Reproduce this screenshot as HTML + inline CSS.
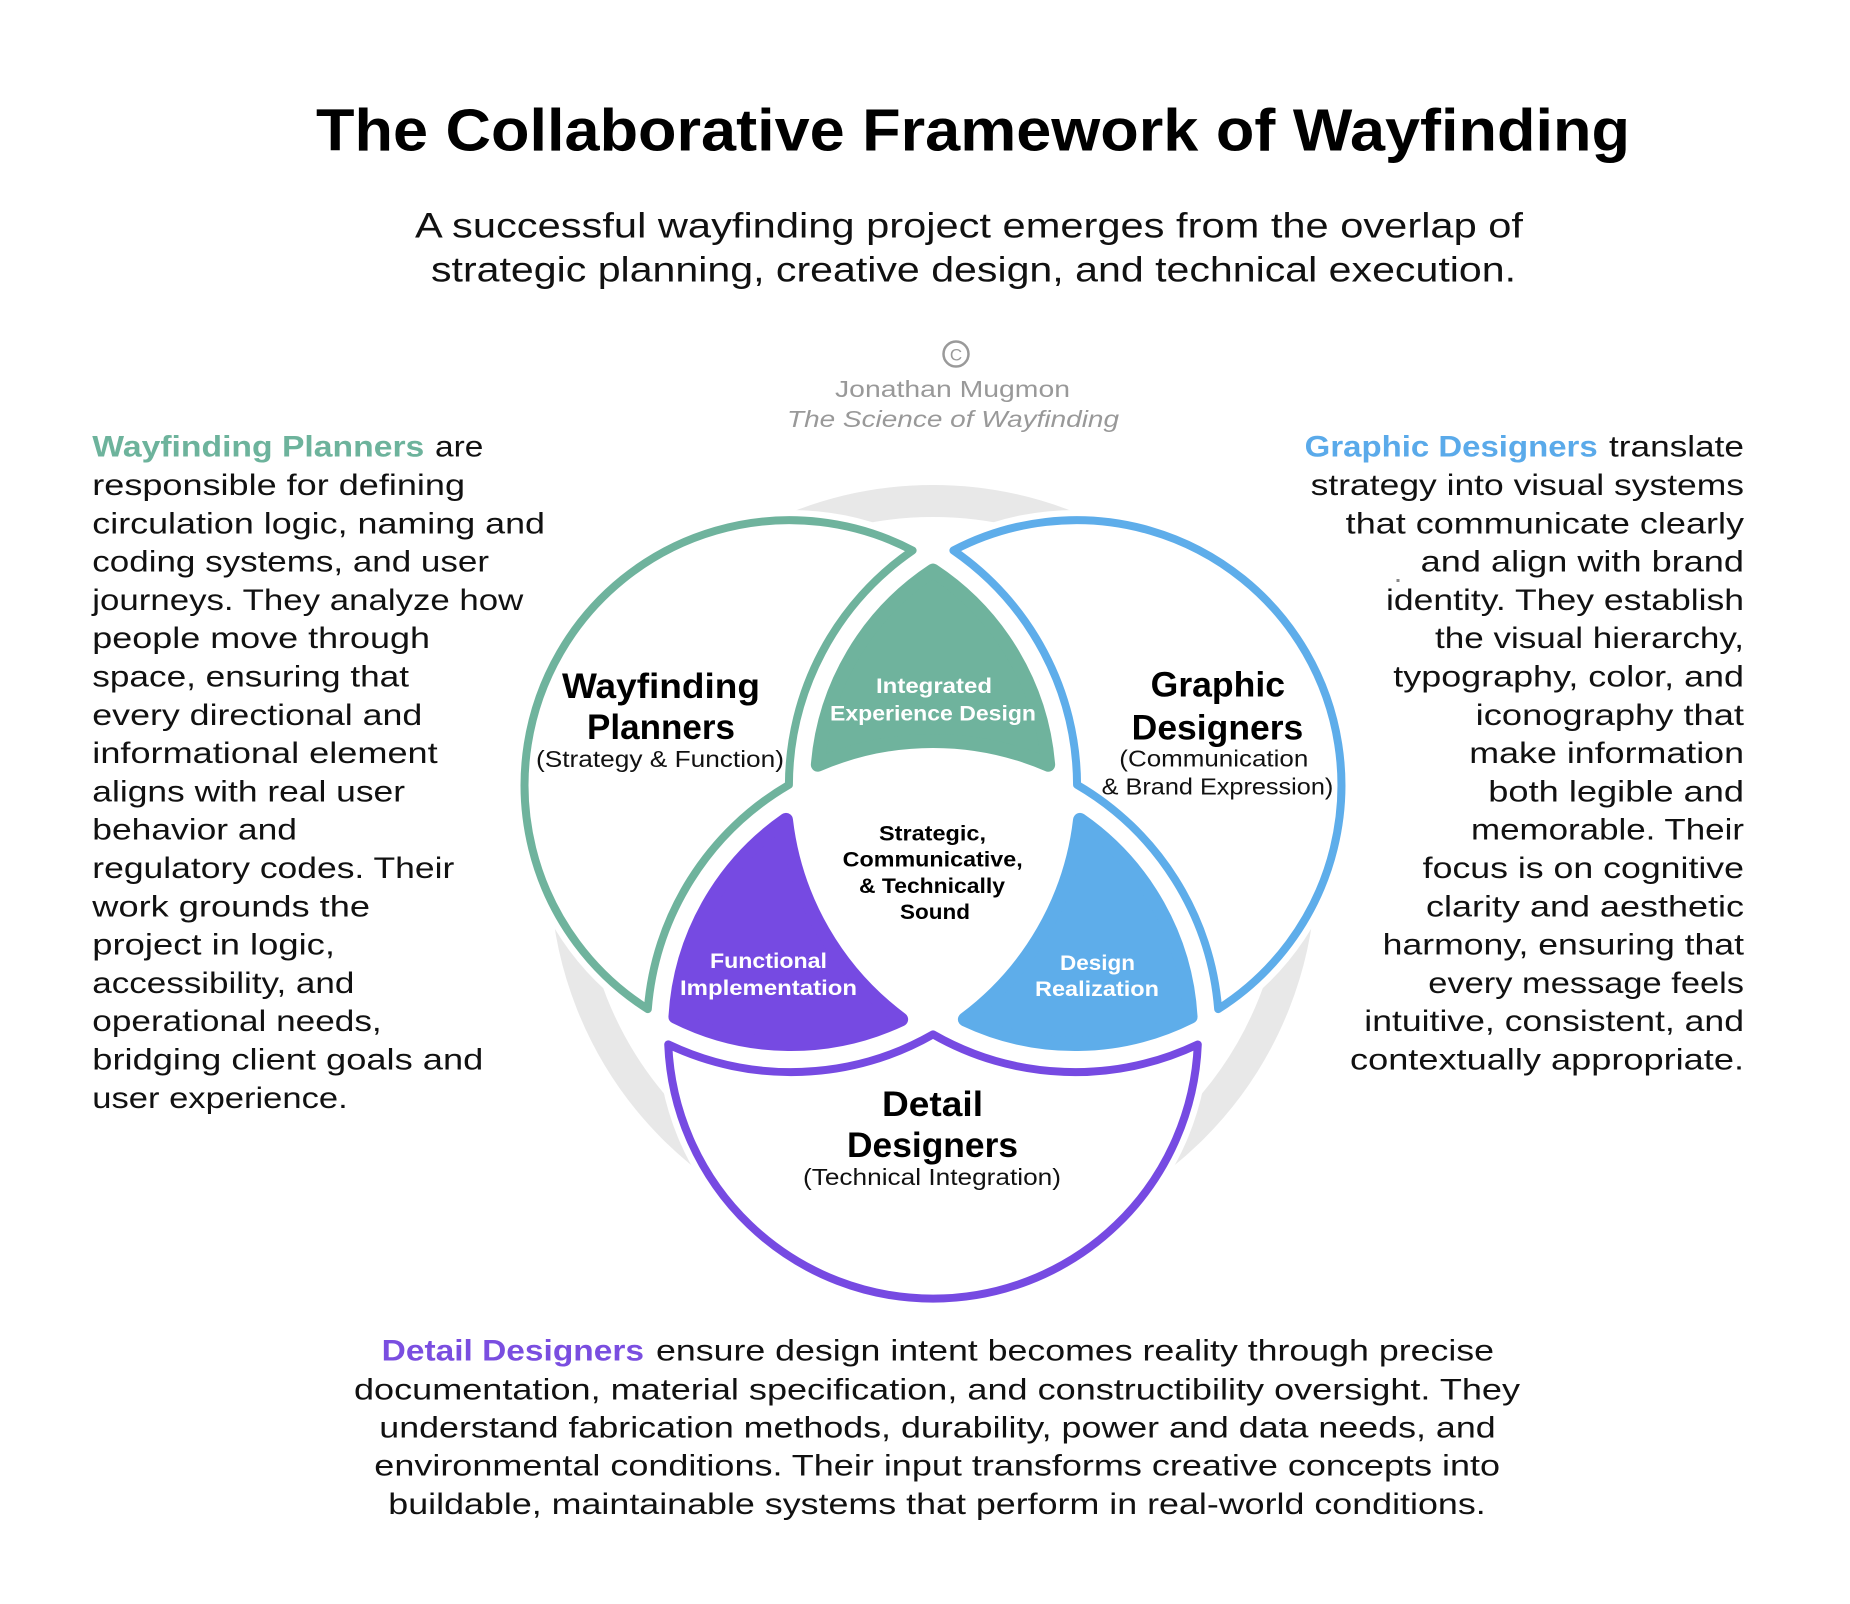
<!DOCTYPE html>
<html>
<head>
<meta charset="utf-8">
<style>
  html, body { margin:0; padding:0; background:#ffffff; }
  svg { display:block; }
  text { font-family: "Liberation Sans", Arial, sans-serif; }
  .body { font-size:30px; fill:#111; }
  .bold { font-weight:bold; }
</style>
</head>
<body>
<svg width="1850" height="1604" viewBox="0 0 1850 1604" xmlns="http://www.w3.org/2000/svg">
  <rect x="0" y="0" width="1850" height="1604" fill="#ffffff"/>

  <!-- Title -->
  <text x="316" y="150.7" font-size="59" font-weight="bold" fill="#000" textLength="1314" lengthAdjust="spacingAndGlyphs">The Collaborative Framework of Wayfinding</text>

  <!-- Subtitle -->
  <text x="415" y="237.3" font-size="35" fill="#111" textLength="1108" lengthAdjust="spacingAndGlyphs">A successful wayfinding project emerges from the overlap of</text>
  <text x="431" y="281.7" font-size="35" fill="#111" textLength="1085" lengthAdjust="spacingAndGlyphs">strategic planning, creative design, and technical execution.</text>

  <!-- Attribution -->
  <circle cx="956" cy="354" r="12.5" fill="none" stroke="#9a9a9a" stroke-width="2.5"/>
  <text x="956" y="360.5" font-size="17" fill="#9a9a9a" text-anchor="middle">C</text>
  <text x="835" y="397" font-size="23" fill="#999" textLength="235" lengthAdjust="spacingAndGlyphs">Jonathan Mugmon</text>
  <text x="787" y="427" font-size="23" font-style="italic" fill="#999" textLength="332" lengthAdjust="spacingAndGlyphs">The Science of Wayfinding</text>

  <!-- Gray ring -->
  <circle cx="933" cy="868" r="367" fill="none" stroke="#e8e8e8" stroke-width="32"/>

  <!-- White halos -->
  <circle cx="791" cy="786" r="276" fill="#fff"/>
  <circle cx="1075" cy="786" r="276" fill="#fff"/>
  <circle cx="933" cy="1032" r="276" fill="#fff"/>

  <!-- Exclusive regions (outlined) -->
  <path id="excl" d="M 912.6 550.5 A 265 265 0 0 0 647.8 1009.1 A 286 286 0 0 1 788.9 784.85 A 286 286 0 0 1 912.6 550.5 Z"
        fill="#fff" stroke="#6fb39d" stroke-width="8" stroke-linejoin="round"/>
  <path d="M 912.6 550.5 A 265 265 0 0 0 647.8 1009.1 A 286 286 0 0 1 788.9 784.85 A 286 286 0 0 1 912.6 550.5 Z"
        fill="#fff" stroke="#5eadea" stroke-width="8" stroke-linejoin="round" transform="rotate(120 933 868)"/>
  <path d="M 912.6 550.5 A 265 265 0 0 0 647.8 1009.1 A 286 286 0 0 1 788.9 784.85 A 286 286 0 0 1 912.6 550.5 Z"
        fill="#fff" stroke="#764ae2" stroke-width="8" stroke-linejoin="round" transform="rotate(240 933 868)"/>

  <!-- Pairwise filled regions -->
  <path d="M 933 570.6 A 258 258 0 0 0 817.85 764.7 A 291 291 0 0 1 1048.15 764.7 A 258 258 0 0 0 933 570.6 Z"
        fill="#6fb39d" stroke="#6fb39d" stroke-width="14" stroke-linejoin="round"/>
  <path d="M 933 570.6 A 258 258 0 0 0 817.85 764.7 A 291 291 0 0 1 1048.15 764.7 A 258 258 0 0 0 933 570.6 Z"
        fill="#5eadea" stroke="#5eadea" stroke-width="14" stroke-linejoin="round" transform="rotate(120 933 868)"/>
  <path d="M 933 570.6 A 258 258 0 0 0 817.85 764.7 A 291 291 0 0 1 1048.15 764.7 A 258 258 0 0 0 933 570.6 Z"
        fill="#764ae2" stroke="#764ae2" stroke-width="14" stroke-linejoin="round" transform="rotate(240 933 868)"/>

  <!-- Diagram labels -->
  <text x="562" y="698" font-size="35" font-weight="bold" fill="#000" textLength="198" lengthAdjust="spacingAndGlyphs">Wayfinding</text>
  <text x="587" y="739" font-size="35" font-weight="bold" fill="#000" textLength="148" lengthAdjust="spacingAndGlyphs">Planners</text>
  <text x="536" y="767" font-size="23" fill="#111" textLength="248" lengthAdjust="spacingAndGlyphs">(Strategy &amp; Function)</text>

  <text x="1150.7" y="696.7" font-size="35" font-weight="bold" fill="#000" textLength="134.3" lengthAdjust="spacingAndGlyphs">Graphic</text>
  <text x="1131.7" y="739.3" font-size="35" font-weight="bold" fill="#000" textLength="171.6" lengthAdjust="spacingAndGlyphs">Designers</text>
  <text x="1119.3" y="766.7" font-size="23" fill="#111" textLength="189" lengthAdjust="spacingAndGlyphs">(Communication</text>
  <text x="1101.7" y="794.3" font-size="23" fill="#111" textLength="231.6" lengthAdjust="spacingAndGlyphs">&amp; Brand Expression)</text>

  <text x="882" y="1116" font-size="35" font-weight="bold" fill="#000" textLength="101" lengthAdjust="spacingAndGlyphs">Detail</text>
  <text x="847" y="1157" font-size="35" font-weight="bold" fill="#000" textLength="171" lengthAdjust="spacingAndGlyphs">Designers</text>
  <text x="803" y="1185" font-size="23" fill="#111" textLength="258" lengthAdjust="spacingAndGlyphs">(Technical Integration)</text>

  <text x="876" y="693" font-size="21" font-weight="bold" fill="#fff" textLength="116" lengthAdjust="spacingAndGlyphs">Integrated</text>
  <text x="830" y="720.7" font-size="21" font-weight="bold" fill="#fff" textLength="206" lengthAdjust="spacingAndGlyphs">Experience Design</text>

  <text x="879" y="840.7" font-size="21" font-weight="bold" fill="#000" textLength="107" lengthAdjust="spacingAndGlyphs">Strategic,</text>
  <text x="842.7" y="866.7" font-size="21" font-weight="bold" fill="#000" textLength="180" lengthAdjust="spacingAndGlyphs">Communicative,</text>
  <text x="859" y="893" font-size="21" font-weight="bold" fill="#000" textLength="146" lengthAdjust="spacingAndGlyphs">&amp; Technically</text>
  <text x="900" y="919" font-size="21" font-weight="bold" fill="#000" textLength="70" lengthAdjust="spacingAndGlyphs">Sound</text>

  <text x="710" y="968" font-size="21" font-weight="bold" fill="#fff" textLength="117" lengthAdjust="spacingAndGlyphs">Functional</text>
  <text x="680" y="995" font-size="21" font-weight="bold" fill="#fff" textLength="177" lengthAdjust="spacingAndGlyphs">Implementation</text>

  <text x="1060" y="970" font-size="21" font-weight="bold" fill="#fff" textLength="75" lengthAdjust="spacingAndGlyphs">Design</text>
  <text x="1035" y="996" font-size="21" font-weight="bold" fill="#fff" textLength="124" lengthAdjust="spacingAndGlyphs">Realization</text>

  <!-- Left paragraph -->
  <text class="body bold" x="92.3" y="456.7" fill="#6db39c" style="fill:#6db39c" textLength="332" lengthAdjust="spacingAndGlyphs">Wayfinding Planners</text>
  <text class="body" x="435" y="456.7" textLength="48.3" lengthAdjust="spacingAndGlyphs">are</text>
  <text class="body" x="92.3" y="495.0" textLength="372.7" lengthAdjust="spacingAndGlyphs">responsible for defining</text>
  <text class="body" x="92.3" y="533.3" textLength="452.7" lengthAdjust="spacingAndGlyphs">circulation logic, naming and</text>
  <text class="body" x="92.3" y="571.6" textLength="396.7" lengthAdjust="spacingAndGlyphs">coding systems, and user</text>
  <text class="body" x="92.3" y="609.9" textLength="431" lengthAdjust="spacingAndGlyphs">journeys. They analyze how</text>
  <text class="body" x="92.3" y="648.2" textLength="337.7" lengthAdjust="spacingAndGlyphs">people move through</text>
  <text class="body" x="92.3" y="686.5" textLength="316.7" lengthAdjust="spacingAndGlyphs">space, ensuring that</text>
  <text class="body" x="92.3" y="724.8" textLength="330" lengthAdjust="spacingAndGlyphs">every directional and</text>
  <text class="body" x="92.3" y="763.1" textLength="345.4" lengthAdjust="spacingAndGlyphs">informational element</text>
  <text class="body" x="92.3" y="801.4" textLength="312.7" lengthAdjust="spacingAndGlyphs">aligns with real user</text>
  <text class="body" x="92.3" y="839.7" textLength="204.7" lengthAdjust="spacingAndGlyphs">behavior and</text>
  <text class="body" x="92.3" y="878.0" textLength="362" lengthAdjust="spacingAndGlyphs">regulatory codes. Their</text>
  <text class="body" x="92.3" y="916.3" textLength="277.7" lengthAdjust="spacingAndGlyphs">work grounds the</text>
  <text class="body" x="92.3" y="954.6" textLength="242.7" lengthAdjust="spacingAndGlyphs">project in logic,</text>
  <text class="body" x="92.3" y="992.9" textLength="262" lengthAdjust="spacingAndGlyphs">accessibility, and</text>
  <text class="body" x="92.3" y="1031.2" textLength="289.4" lengthAdjust="spacingAndGlyphs">operational needs,</text>
  <text class="body" x="92.3" y="1069.5" textLength="391" lengthAdjust="spacingAndGlyphs">bridging client goals and</text>
  <text class="body" x="92.3" y="1107.8" textLength="255.4" lengthAdjust="spacingAndGlyphs">user experience.</text>

  <!-- Right paragraph -->
  <text class="body bold" x="1304.7" y="456.7" style="fill:#5aaaea" textLength="293" lengthAdjust="spacingAndGlyphs">Graphic Designers</text>
  <text class="body" x="1609" y="456.7" textLength="135" lengthAdjust="spacingAndGlyphs">translate</text>
  <text class="body" x="1310.7" y="495.0" textLength="433.3" lengthAdjust="spacingAndGlyphs">strategy into visual systems</text>
  <text class="body" x="1345.7" y="533.3" textLength="398.3" lengthAdjust="spacingAndGlyphs">that communicate clearly</text>
  <text class="body" x="1420.7" y="571.6" textLength="323.3" lengthAdjust="spacingAndGlyphs">and align with brand</text>
  <text class="body" x="1386" y="609.9" textLength="358" lengthAdjust="spacingAndGlyphs">identity. They establish</text>
  <text class="body" x="1435" y="648.2" textLength="309" lengthAdjust="spacingAndGlyphs">the visual hierarchy,</text>
  <text class="body" x="1393.3" y="686.5" textLength="350.7" lengthAdjust="spacingAndGlyphs">typography, color, and</text>
  <text class="body" x="1475.7" y="724.8" textLength="268.3" lengthAdjust="spacingAndGlyphs">iconography that</text>
  <text class="body" x="1469.3" y="763.1" textLength="274.7" lengthAdjust="spacingAndGlyphs">make information</text>
  <text class="body" x="1488.3" y="801.4" textLength="255.7" lengthAdjust="spacingAndGlyphs">both legible and</text>
  <text class="body" x="1471" y="839.7" textLength="273" lengthAdjust="spacingAndGlyphs">memorable. Their</text>
  <text class="body" x="1422.7" y="878.0" textLength="321.3" lengthAdjust="spacingAndGlyphs">focus is on cognitive</text>
  <text class="body" x="1426" y="916.3" textLength="318" lengthAdjust="spacingAndGlyphs">clarity and aesthetic</text>
  <text class="body" x="1382.7" y="954.6" textLength="361.3" lengthAdjust="spacingAndGlyphs">harmony, ensuring that</text>
  <text class="body" x="1428.3" y="992.9" textLength="315.7" lengthAdjust="spacingAndGlyphs">every message feels</text>
  <text class="body" x="1364.3" y="1031.2" textLength="379.7" lengthAdjust="spacingAndGlyphs">intuitive, consistent, and</text>
  <text class="body" x="1350" y="1069.5" textLength="394" lengthAdjust="spacingAndGlyphs">contextually appropriate.</text>
  <rect x="1396.5" y="579" width="3" height="3" fill="#888"/>

  <!-- Bottom paragraph -->
  <text class="body bold" x="381.7" y="1360.7" style="fill:#7a4ee0" textLength="262.3" lengthAdjust="spacingAndGlyphs">Detail Designers</text>
  <text class="body" x="656" y="1360.7" textLength="838" lengthAdjust="spacingAndGlyphs">ensure design intent becomes reality through precise</text>
  <text class="body" x="354" y="1399.3" textLength="1166" lengthAdjust="spacingAndGlyphs">documentation, material specification, and constructibility oversight. They</text>
  <text class="body" x="379.3" y="1437.3" textLength="1116.4" lengthAdjust="spacingAndGlyphs">understand fabrication methods, durability, power and data needs, and</text>
  <text class="body" x="374.3" y="1475.7" textLength="1125.7" lengthAdjust="spacingAndGlyphs">environmental conditions. Their input transforms creative concepts into</text>
  <text class="body" x="388.3" y="1514" textLength="1097.4" lengthAdjust="spacingAndGlyphs">buildable, maintainable systems that perform in real-world conditions.</text>
</svg>
</body>
</html>
